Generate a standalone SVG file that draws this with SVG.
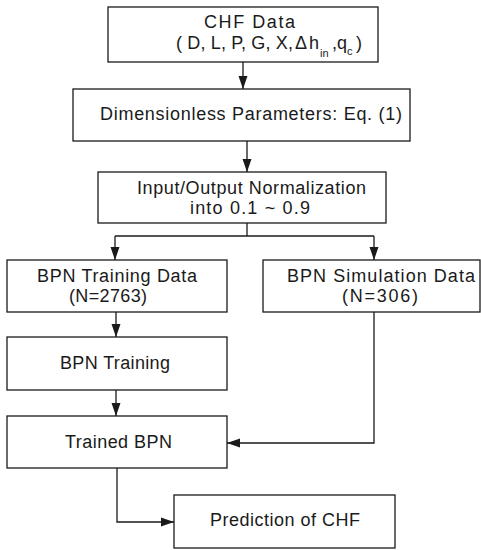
<svg xmlns="http://www.w3.org/2000/svg" width="481" height="550" viewBox="0 0 481 550">
  <style>
    .box { fill: #ffffff; stroke: #1a1a1a; stroke-width: 1.3; }
    .lbl { font-family: "Liberation Sans", Arial, sans-serif; font-size: 18px; fill: #1a1a1a; }
    .sub { font-size: 11px; }
    .wire { fill: none; stroke: #1a1a1a; stroke-width: 1.3; }
  </style>
  <defs>
    <marker id="arrow" markerUnits="userSpaceOnUse" markerWidth="13" markerHeight="10" refX="13" refY="5" orient="auto">
      <path d="M0,0.5 L13,5 L0,9.5 z" fill="#1a1a1a"/>
    </marker>
  </defs>
  <rect width="481" height="550" fill="#ffffff"/>

  <!-- connectors -->
  <g id="connectors">
    <path class="wire" d="M243,62 V89" marker-end="url(#arrow)"/>
    <path class="wire" d="M247,141 V172" marker-end="url(#arrow)"/>
    <path class="wire" d="M247,223 V236"/>
    <path class="wire" d="M115,236 H374"/>
    <path class="wire" d="M115,236 V260" marker-end="url(#arrow)"/>
    <path class="wire" d="M374,236 V260" marker-end="url(#arrow)"/>
    <path class="wire" d="M116,312 V337" marker-end="url(#arrow)"/>
    <path class="wire" d="M116,390 V416" marker-end="url(#arrow)"/>
    <path class="wire" d="M374,312 V443 H227" marker-end="url(#arrow)"/>
    <path class="wire" d="M117,468 V522 H174" marker-end="url(#arrow)"/>
  </g>

  <!-- CHF data inputs -->
  <g id="chf-data">
    <rect class="box" x="108" y="7" width="270" height="55"/>
    <text class="lbl" x="204" y="28" textLength="91" lengthAdjust="spacing">CHF Data</text>
    <text class="lbl" x="176" y="49" textLength="117" lengthAdjust="spacing">( D, L, P, G, X,</text>
    <text class="lbl" x="295" y="49">Δ</text>
    <text class="lbl" x="309" y="49">h</text>
    <text class="lbl sub" x="320" y="57">in</text>
    <text class="lbl" x="332" y="49">,</text>
    <text class="lbl" x="337" y="49">q</text>
    <text class="lbl sub" x="347" y="55">c</text>
    <text class="lbl" x="356" y="49">)</text>
  </g>

  <!-- dimensionless parameters -->
  <g id="dimensionless">
    <rect class="box" x="73" y="89" width="337" height="52"/>
    <text class="lbl" x="100" y="120" textLength="302" lengthAdjust="spacing">Dimensionless Parameters: Eq. (1)</text>
  </g>

  <!-- normalization -->
  <g id="normalization">
    <rect class="box" x="98" y="172" width="288" height="51"/>
    <text class="lbl" x="137" y="194" textLength="229" lengthAdjust="spacing">Input/Output Normalization</text>
    <text class="lbl" x="190" y="214" textLength="120" lengthAdjust="spacing">into 0.1 ~ 0.9</text>
  </g>

  <!-- training data -->
  <g id="training-data">
    <rect class="box" x="7" y="260" width="220" height="52"/>
    <text class="lbl" x="37" y="282" textLength="160" lengthAdjust="spacing">BPN Training Data</text>
    <text class="lbl" x="69" y="302" textLength="78" lengthAdjust="spacing">(N=2763)</text>
  </g>

  <!-- simulation data -->
  <g id="simulation-data">
    <rect class="box" x="263" y="260" width="217" height="52"/>
    <text class="lbl" x="287" y="282" textLength="188" lengthAdjust="spacing">BPN Simulation Data</text>
    <text class="lbl" x="342" y="302" textLength="76" lengthAdjust="spacing">(N=306)</text>
  </g>

  <!-- training step -->
  <g id="training">
    <rect class="box" x="7" y="337" width="220" height="53"/>
    <text class="lbl" x="60" y="369" textLength="110" lengthAdjust="spacing">BPN Training</text>
  </g>

  <!-- trained network -->
  <g id="trained">
    <rect class="box" x="7" y="416" width="220" height="52"/>
    <text class="lbl" x="65" y="448" textLength="107" lengthAdjust="spacing">Trained BPN</text>
  </g>

  <!-- prediction -->
  <g id="prediction">
    <rect class="box" x="174" y="495" width="221" height="53"/>
    <text class="lbl" x="210" y="526" textLength="150" lengthAdjust="spacing">Prediction of CHF</text>
  </g>
</svg>
